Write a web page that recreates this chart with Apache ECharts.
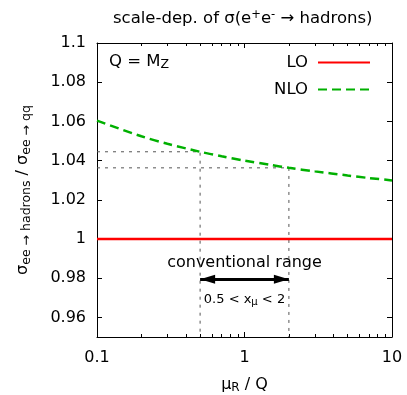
<!DOCTYPE html>
<html><head><meta charset="utf-8">
<script src="https://cdn.jsdelivr.net/npm/echarts@6/dist/echarts.min.js"></script>
<style>html,body{margin:0;padding:0;background:#fff}#c{width:407px;height:395px}</style>
</head><body><div id="c"></div>
<script>
// ---- data ----
const muOverQ   = [0.1, 0.2, 0.3, 0.5, 0.7, 1, 1.5, 2, 3, 5, 7, 10];
const nloValues = [1.0604, 1.0524, 1.0486, 1.0445, 1.0422, 1.0400, 1.0378, 1.0363, 1.0345, 1.0324, 1.0311, 1.0299];
const loX       = [0.1, 10];
const loValues  = [1, 1];
const xMajorTicks = [0.1, 1, 10];
const xMinorTicks = [0.2, 0.3, 0.4, 0.5, 0.6, 0.7, 0.8, 0.9, 2, 3, 4, 5, 6, 7, 8, 9];
const yTicks = [0.96, 0.98, 1, 1.02, 1.04, 1.06, 1.08, 1.1];
const yRange = [0.95, 1.1];
const rangeLow = 0.5, rangeHigh = 2;
const arrowLevel = 0.9795;

// ---- chart ----
const FONT = 'DejaVu Sans';
const FS = 16;
const chart = echarts.init(document.getElementById('c'));
const xMin = xMajorTicks[0], xMax = xMajorTicks[xMajorTicks.length - 1];
const y05 = nloValues[muOverQ.indexOf(rangeLow)];
const y2 = nloValues[muOverQ.indexOf(rangeHigh)];

function xAx(pos, ticks, len, labels, line) {
  return {
    type: 'log', logBase: 10, min: xMin, max: xMax, position: pos,
    splitLine: { show: false },
    axisLine: { show: line, lineStyle: { color: '#000', width: 1 } },
    axisTick: { show: true, inside: true, length: len, customValues: ticks, lineStyle: { color: '#000', width: 1 } },
    axisLabel: { show: labels, customValues: ticks, margin: 13, fontFamily: FONT, fontSize: FS, color: '#000',
      formatter: v => String(v) }
  };
}
function yAx(pos, labels) {
  return {
    type: 'value', min: yRange[0], max: yRange[1], position: pos,
    splitLine: { show: false },
    axisLine: { show: true, onZero: false, lineStyle: { color: '#000', width: 1 } },
    axisTick: { show: true, inside: true, length: 5, customValues: yTicks, lineStyle: { color: '#000', width: 1 } },
    axisLabel: { show: labels, customValues: yTicks, margin: 11, fontFamily: FONT, fontSize: FS, color: '#000',
      formatter: v => String(parseFloat((+v).toFixed(2))) }
  };
}

const xAxes = [
  xAx('bottom', xMajorTicks, 5, true, true),
  xAx('bottom', xMinorTicks, 3, false, false),
  xAx('top', xMajorTicks, 5, false, true),
  xAx('top', xMinorTicks, 3, false, false)
];
Object.assign(xAxes[0], {
  name: 'μ{sub|R} / Q', nameLocation: 'middle', nameGap: 38,
  nameTextStyle: { fontFamily: FONT, fontSize: FS, color: '#000',
    rich: { sub: { fontFamily: FONT, fontSize: 12, color: '#000', padding: [7, 0, 0, 0] } } }
});
const yAxes = [yAx('left', true), yAx('right', false)];
Object.assign(yAxes[0], {
  name: 'σ{sub|ee → hadrons} / σ{sub|ee → qq}', nameLocation: 'middle', nameGap: 64, nameRotate: 90,
  nameTextStyle: { fontFamily: FONT, fontSize: FS, color: '#000',
    rich: { sub: { fontFamily: FONT, fontSize: 12.5, color: '#000', padding: [7, 0, 0, 0] } } }
});

const guideStyle = { color: '#555', width: 1, type: [3, 5] };

chart.setOption({
  animation: false,
  backgroundColor: '#fff',
  title: {
    text: 'scale-dep. of σ(e{sup|+}e{sup|-} → hadrons)', left: 108, top: 4,
    textStyle: { fontFamily: FONT, fontSize: 16.5, fontWeight: 'normal', color: '#000',
      rich: { sup: { fontFamily: FONT, fontSize: 11.5, color: '#000', padding: [0, 0, 7, 0] } } }
  },
  grid: { left: 97, right: 15, top: 43, bottom: 58, containLabel: false, outerBoundsMode: 'none' },
  xAxis: xAxes,
  yAxis: yAxes,
  legend: {
    data: ['LO', 'NLO'], orient: 'vertical', right: 31, top: 49, align: 'right',
    itemWidth: 52, itemHeight: 14, itemGap: 10,
    itemStyle: { opacity: 0 },
    textStyle: { fontFamily: FONT, fontSize: 16.5, color: '#000', padding: [0, 5, 0, 0] }
  },
  series: [
    { name: 'guideLow', type: 'line', symbol: 'none', silent: true, z: 1,
      data: [[xMin, y05], [rangeLow, y05], [rangeLow, yRange[0]]], lineStyle: guideStyle },
    { name: 'guideHigh', type: 'line', symbol: 'none', silent: true, z: 1,
      data: [[xMin, y2], [rangeHigh, y2], [rangeHigh, yRange[0]]], lineStyle: guideStyle },
    { name: 'LO', type: 'line', symbol: 'none', z: 3, color: '#ff0000',
      data: loX.map((x, i) => [x, loValues[i]]), lineStyle: { color: '#ff0000', width: 2.5 } },
    { name: 'NLO', type: 'line', symbol: 'none', z: 3, color: '#00b000', smooth: 0.3,
      data: muOverQ.map((x, i) => [x, nloValues[i]]), lineStyle: { color: '#00b000', width: 2.5, type: [9, 5] } },
    { name: 'range', type: 'line', symbol: 'none', data: [], z: 4,
      markLine: { silent: true, symbol: ['triangle', 'triangle'], symbolSize: [9, 15],
        symbolOffset: [[0, 7.5], [0, 7.5]],
        label: { show: false }, lineStyle: { color: '#000', width: 3, type: 'solid' },
        data: [[{ coord: [rangeLow, arrowLevel] }, { coord: [rangeHigh, arrowLevel] }]] } }
  ]
});

const p1 = chart.convertToPixel({ xAxisIndex: 0, yAxisIndex: 0 }, [1, 0.9880]);
const p2 = chart.convertToPixel({ xAxisIndex: 0, yAxisIndex: 0 }, [1, 0.9693]);
chart.setOption({
  graphic: [
    { type: 'text', left: 109, top: 53, style: { text: 'Q = M{sub|Z}', fontFamily: FONT, fontSize: 16.5, fill: '#000',
      rich: { sub: { fontFamily: FONT, fontSize: 12.5, fill: '#000', padding: [7, 0, 0, 0] } } } },
    { type: 'text', x: p1[0], y: p1[1], style: { text: 'conventional range', align: 'center', verticalAlign: 'middle',
      fontFamily: FONT, fontSize: FS, fill: '#000' } },
    { type: 'text', x: p2[0], y: p2[1], style: { text: '0.5 < x{sub|μ} < 2', align: 'center', verticalAlign: 'middle',
      fontFamily: FONT, fontSize: 13, fill: '#000',
      rich: { sub: { fontFamily: FONT, fontSize: 10, fill: '#000', padding: [6, 0, 0, 0] } } } }
  ]
});
</script></body></html>
